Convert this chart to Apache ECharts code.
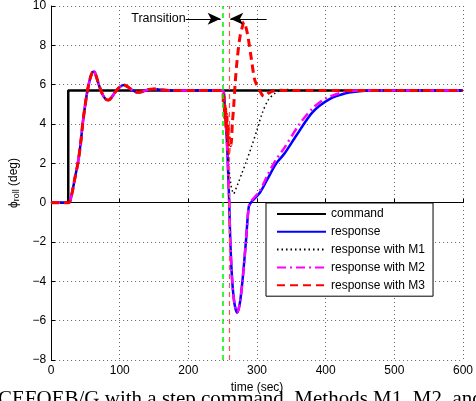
<!DOCTYPE html>
<html lang="en">
<head>
    <meta charset="UTF-8">
    <title>Roll response</title>
    <script src="https://cdn.jsdelivr.net/npm/echarts@6/dist/echarts.min.js"></script>
    <style>
        body, html { margin: 0; padding: 0; width: 100%; height: 100%; overflow: hidden; background: #fff; }
        #container { width: 476px; height: 401px; }
    </style>
</head>
<body>
    <div id="container"></div>
    <script>
        // axis ticks
        var xTicks = [0, 100, 200, 300, 400, 500, 600];
        var yTicks = [-8, -6, -4, -2, 0, 2, 4, 6, 8, 10];

        // step command
        var command = [[0, 0], [25, 0], [25, 5.7], [600, 5.7]];

        // first step: all four responses lie on top of each other
        var early = [[0, 0], [25, 0], [27, 0.02], [30, 0.4], [35, 1.3], [39, 2.0], [43, 3.0], [46, 4.0],
            [49, 4.8], [52, 5.5], [56, 6.2], [60, 6.62], [63, 6.66], [66, 6.4], [70, 5.95], [75, 5.5],
            [80, 5.25], [84, 5.22], [88, 5.35], [93, 5.6], [99, 5.85], [106, 5.98], [112, 5.88],
            [118, 5.73], [123, 5.64], [127, 5.61], [133, 5.65], [142, 5.76], [150, 5.78], [160, 5.74],
            [175, 5.7], [250, 5.7]];

        // after the transition
        var respLate = [[253, 4.8], [256, 3.2], [258, 1.5], [259.5, 0], [261, -1.9], [263.7, -3.9],
            [267, -5.1], [271, -5.6], [275, -5.1], [279, -3.9], [284, -1.9], [288, -0.2], [292, 0.05],
            [304, 0.5], [316, 1.25], [328, 2.0], [340, 2.5], [357, 3.4], [381, 4.6], [405, 5.25],
            [429, 5.56], [453, 5.68], [478, 5.7], [600, 5.7]];
        var m1Late = [[253, 4.8], [256, 3.3], [259, 1.8], [262, 0.9], [264, 0.6], [266, 0.45],
            [268, 0.6], [272, 0.95], [278, 1.5], [285, 2.15], [292, 2.85], [300, 3.7], [307, 4.5],
            [316, 5.2], [326, 5.56], [335, 5.7], [345, 5.75], [360, 5.7], [600, 5.7]];
        var m2Late = [[253, 4.8], [256, 3.2], [258, 1.5], [259.5, 0], [261, -1.9], [263.7, -3.9],
            [267, -5.1], [271, -5.6], [275, -5.1], [279, -3.9], [284, -1.9], [288, -0.2], [292, 0.1],
            [304, 0.6], [316, 1.45], [328, 2.2], [340, 2.8], [362, 4.0], [381, 4.8], [400, 5.3],
            [429, 5.65], [450, 5.7], [600, 5.7]];
        var m3Late = [[251, 5.0], [252, 5.4], [253, 4.3], [254, 4.9], [255, 3.7], [256, 4.5],
            [257, 3.2], [258, 3.9], [259, 2.5], [260, 3.3], [262, 2.9], [264, 4.0], [266, 4.9],
            [268, 6.0], [271, 7.25], [275, 8.4], [279, 9.0], [281, 9.2], [284, 8.9], [287, 8.4],
            [292, 7.25], [297, 6.2], [304, 5.7], [308, 5.45], [311, 5.4], [316, 5.55], [321, 5.65],
            [330, 5.72], [340, 5.7], [600, 5.7]];

        var transitionStart = 250;
        var transitionEnd = 259;
        var arrowY = 9.35;
        var arrowLeft = [196, 247];
        var arrowRight = [314, 261];

        var font = '"Liberation Sans", Arial, sans-serif';

        function minusFmt(v) {
            return v < 0 ? '\u2212' + Math.abs(v) : String(v);
        }

        var option = {
            animation: false,
            backgroundColor: '#fff',
            textStyle: { fontFamily: font },
            grid: { left: 48, right: 10, top: 6, bottom: 41 },
            xAxis: {
                type: 'value', min: 0, max: 600, interval: 100,
                name: 'time (sec)', nameLocation: 'middle', nameGap: 18,
                nameTextStyle: { color: '#000', fontSize: 12, fontFamily: font },
                axisLine: { lineStyle: { color: '#000', width: 1 } },
                axisTick: { inside: true, length: 4, lineStyle: { color: '#000' } },
                axisLabel: { color: '#000', fontSize: 12, margin: 5, fontFamily: font },
                splitLine: { show: true, lineStyle: { color: '#666', type: [1, 3], width: 1 } }
            },
            yAxis: {
                type: 'value', min: -8, max: 10, interval: 2,
                name: '{p|\u03d5}{s|roll} (deg)', nameLocation: 'middle', nameGap: 29, nameRotate: 90,
                nameTextStyle: {
                    color: '#000', fontSize: 12, fontFamily: font,
                    rich: {
                        p: { fontSize: 12, fontFamily: font, color: '#000' },
                        s: { fontSize: 9, fontFamily: font, color: '#000', padding: [6, 0, 0, 0] }
                    }
                },
                axisLine: { show: true, lineStyle: { color: '#000', width: 1 } },
                axisTick: { show: true, inside: true, length: 4, lineStyle: { color: '#000' } },
                axisLabel: { color: '#000', fontSize: 12, margin: 5, fontFamily: font, formatter: minusFmt },
                splitLine: { show: true, lineStyle: { color: '#666', type: [1, 3], width: 1 } }
            },
            legend: {
                orient: 'vertical', left: 266, top: 203,
                backgroundColor: '#fff', borderColor: '#000', borderWidth: 1,
                padding: [5, 8, 5, 10], itemWidth: 49, itemHeight: 12, itemGap: 5.8,
                itemStyle: { opacity: 0 },
                textStyle: { color: '#000', fontSize: 12, fontFamily: font },
                data: ['command', 'response', 'response with M1', 'response with M2', 'response with M3']
            },
            series: [
                {
                    name: 'command', type: 'line', data: command, symbol: 'none',
                    lineStyle: { color: '#000', width: 2.5 }, itemStyle: { color: '#000' },
                    markLine: {
                        silent: true, symbol: ['none', 'none'], label: { show: false },
                        data: [
                            { xAxis: transitionStart, lineStyle: { color: '#00ee00', type: [5, 4], width: 1.5 } },
                            { xAxis: transitionEnd, lineStyle: { color: '#ff5050', type: [5, 4], width: 1.2 } }
                        ]
                    }
                },
                {
                    name: 'response', type: 'line', data: early.concat(respLate), symbol: 'none', smooth: 0.3,
                    lineStyle: { color: '#0000ff', width: 2.5 }, itemStyle: { color: '#0000ff' }
                },
                {
                    name: 'response with M1', type: 'line', data: early.concat(m1Late), symbol: 'none', smooth: 0.3,
                    lineStyle: { color: '#000', width: 1.5, type: [1.5, 3] }, itemStyle: { color: '#000' }
                },
                {
                    name: 'response with M2', type: 'line', data: early.concat(m2Late), symbol: 'none', smooth: 0.3,
                    lineStyle: { color: '#ff00ff', width: 2.5, type: [9, 4, 2, 4] }, itemStyle: { color: '#ff00ff' }
                },
                {
                    name: 'response with M3', type: 'line', data: early.concat(m3Late), symbol: 'none', smooth: 0.3,
                    lineStyle: { color: '#ff0000', width: 3, type: [8, 5] }, itemStyle: { color: '#ff0000' },
                    markLine: {
                        silent: true, symbol: ['none', 'arrow'], symbolSize: [9, 13],
                        lineStyle: { color: '#000', type: 'solid', width: 1 },
                        data: [
                            [
                                { coord: [arrowLeft[0], arrowY], label: { show: true, position: 'start', formatter: 'Transition', color: '#000', fontSize: 12.5, fontFamily: font, distance: 0 } },
                                { coord: [arrowLeft[1], arrowY] }
                            ],
                            [
                                { coord: [arrowRight[0], arrowY], label: { show: false } },
                                { coord: [arrowRight[1], arrowY] }
                            ]
                        ]
                    }
                }
            ],
            graphic: [{
                type: 'text', left: -2, top: 389, silent: true,
                style: { text: 'CEFOEB/G with a step command. Methods M1, M2, and', font: '21px "Liberation Serif", serif', fill: '#000' }
            }]
        };

        var chart = echarts.init(document.getElementById('container'));
        chart.setOption(option);
    </script>
</body>
</html>
